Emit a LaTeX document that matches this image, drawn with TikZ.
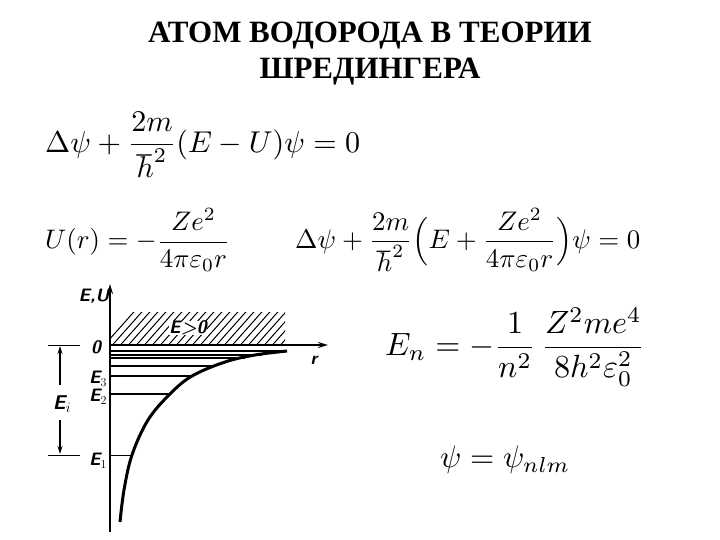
\documentclass[tikz,border=0pt]{standalone}
\usepackage{amsmath}
\usepackage{fontspec}
\setmainfont{Liberation Serif}
\newfontfamily\titlefont{Liberation Serif}
\usepackage{graphicx}
\usetikzlibrary{arrows.meta}
\begin{document}
\begin{tikzpicture}[x=1pt,y=-1pt,
  lvl/.style={line width=1.2pt},
  lab/.style={font=\sffamily\itshape\bfseries\fontsize{18}{18}\selectfont,inner sep=0pt},
  eqn/.style={anchor=west,inner sep=0pt}]
\useasboundingbox (0,0) rectangle (720,540);
\node (t1) at (370,36) {\titlefont\fontsize{31}{33}\selectfont\bfseries АТОМ ВОДОРОДА В ТЕОРИИ};
\node (t2) at (370,72) {\titlefont\fontsize{31}{33}\selectfont\bfseries ШРЕДИНГЕРА};
\node[eqn] (e1) at (45,145) {\resizebox{315pt}{!}{$\Delta\psi+\dfrac{2m}{\hbar^2}(E-U)\psi=0$}};
\node[eqn] (e2) at (45,240) {\resizebox{185pt}{!}{$U(r)=-\dfrac{Ze^2}{4\pi\varepsilon_0 r}$}};
\node[eqn] (e3) at (295,240) {\resizebox{345pt}{!}{$\Delta\psi+\dfrac{2m}{\hbar^2}\Bigl(E+\dfrac{Ze^2}{4\pi\varepsilon_0 r}\Bigr)\psi=0$}};
\node[eqn] (e4) at (385,347) {\resizebox{260pt}{!}{$E_n=-\dfrac{1}{n^2}\,\dfrac{Z^2me^4}{8h^2\varepsilon_0^2}$}};
\node[eqn] (e5) at (440,460) {\resizebox{130pt}{!}{$\psi=\psi_{nlm}$}};
% hatched region
\begin{scope}
\clip (110,312) rectangle (285,345);
\foreach \i in {0,8,...,220} \draw[line width=1pt] (100+\i,350) -- (140+\i,305);
\end{scope}
\node[fill=white,inner sep=1pt,lab] (eg) at (188,328) {E>0};
% axes
\draw[line width=1.8pt,-{Stealth[length=10pt,width=6pt]}] (110,532) coordinate (ab) -- (110,284) coordinate (at);
\draw[line width=1.8pt,-{Stealth[length=10pt,width=6pt]}] (110,345) coordinate (ro) -- (328,345) coordinate (re);
\node[lab] (lEU) at (94,296) {E,U};
\node[lab] (l0) at (96,347) {0};
\node[lab] (lr) at (314,360) {r};
% levels
\draw[lvl] (110,351) -- (285,351);
\draw[lvl] (110,355) -- (262,355);
\draw[lvl] (110,358) -- (245,358);
\draw[lvl] (110,366) -- (215,366);
\draw[lvl] (110,376) -- (192,376);
\draw[lvl] (110,394) -- (170,394);
\draw[line width=0.8pt] (110,455) -- (132,455);
% curve
\draw[line width=3pt] plot[smooth,tension=0.6] coordinates {(120,522) (124,490) (132,455) (148,420) (170,394) (192,376) (225,362) (255,355) (287,351)};
\node[lab] (lE3) at (98,379) {E$_3$};
\node[lab] (lE2) at (98,397) {E$_2$};
\node[lab] (lE1) at (98,461) {E$_1$};
% Ei
\draw[line width=1pt] (48,345) -- (80,345);
\draw[line width=1pt] (48,455) -- (80,455);
\draw[line width=1.2pt,-{Stealth[length=8pt,width=5pt]}] (60,385) -- (60,346);
\draw[line width=1.2pt,-{Stealth[length=8pt,width=5pt]}] (60,420) -- (60,454);
\node[lab,font=\sffamily\itshape\bfseries\fontsize{20}{20}\selectfont] (lEi) at (62,404) {E$_i$};
\end{tikzpicture}
\end{document}
